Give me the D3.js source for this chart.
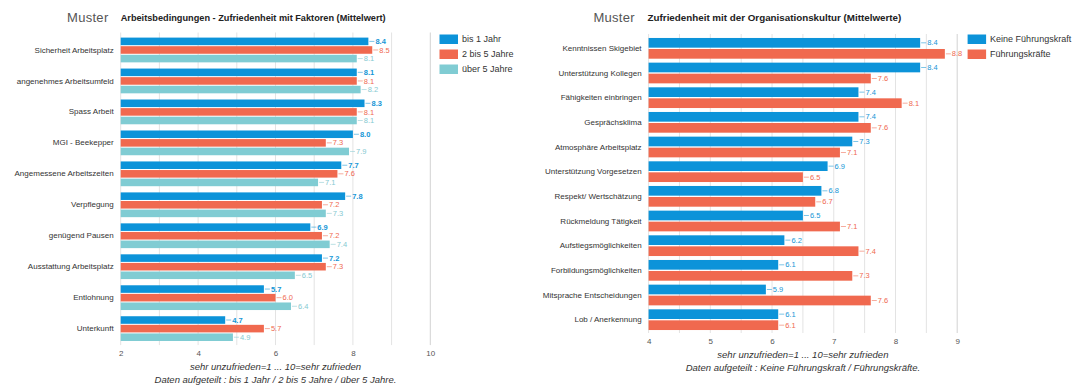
<!DOCTYPE html>
<html><head><meta charset="utf-8">
<script src="https://cdn.jsdelivr.net/npm/d3@7"></script>
<style>
html,body{margin:0;padding:0;background:#fff;}
svg{display:block;font-family:"Liberation Sans",Arial,Helvetica,sans-serif;}
</style></head>
<body><svg id="c" width="1080" height="391"></svg>
<script>
// ---------- DATA ----------
const leftTitle = "Arbeitsbedingungen - Zufriedenheit mit Faktoren (Mittelwert)";
const leftCategories = ["Sicherheit Arbeitsplatz","angenehmes Arbeitsumfeld","Spass Arbeit","MGI - Beekepper","Angemessene Arbeitszeiten","Verpflegung","genügend Pausen","Ausstattung Arbeitsplatz","Entlohnung","Unterkunft"];
const leftSeries = ["bis 1 Jahr","2 bis 5 Jahre","über 5 Jahre"];
const leftBis1Jahr   = [8.4, 8.1, 8.3, 8.0, 7.7, 7.8, 6.9, 7.2, 5.7, 4.7];
const left2bis5Jahre = [8.5, 8.1, 8.1, 7.3, 7.6, 7.2, 7.2, 7.3, 6.0, 5.7];
const leftUeber5Jahre= [8.1, 8.2, 8.1, 7.9, 7.1, 7.3, 7.4, 6.5, 6.4, 4.9];
const leftTicks = [2, 4, 6, 8, 10];
const leftNotes = ["sehr unzufrieden=1 ... 10=sehr zufrieden", "Daten aufgeteilt : bis 1 Jahr / 2 bis 5 Jahre / über 5 Jahre."];

const rightTitle = "Zufriedenheit mit der Organisationskultur (Mittelwerte)";
const rightCategories = ["Kenntnissen Skigebiet","Unterstützung Kollegen","Fähigkeiten einbringen","Gesprächsklima","Atmosphäre Arbeitsplatz","Unterstützung Vorgesetzen","Respekt/ Wertschätzung","Rückmeldung Tätigkeit","Aufstiegsmöglichkeiten","Forbildungsmöglichkeiten","Mitsprache Entscheidungen","Lob / Anerkennung"];
const rightSeries = ["Keine Führungskraft","Führungskräfte"];
const rightKeineFK = [8.4, 8.4, 7.4, 7.4, 7.3, 6.9, 6.8, 6.5, 6.2, 6.1, 5.9, 6.1];
const rightFK      = [8.8, 7.6, 8.1, 7.6, 7.1, 6.5, 6.7, 7.1, 7.4, 7.3, 7.6, 6.1];
const rightTicks = [4, 5, 6, 7, 8, 9];
const rightNotes = ["sehr unzufrieden=1 ... 10=sehr zufrieden", "Daten aufgeteilt : Keine Führungskraft / Führungskräfte."];

const badge = "Muster";

// ---------- STYLE ----------
const barColors  = ["#0c93d9", "#f0694f", "#80ccd3"];
const textColors = ["#1596d6", "#ef6a50", "#86c9d1"];

const svg = d3.select("#c");

function drawChart(cfg) {
  const {categories, series, values, ticks, gridStep, title, titleSize, notes,
         xRange, yRange, padInner, muster, titleX, legendX, boldFirst} = cfg;
  const g = svg.append("g");
  const x = d3.scaleLinear().domain([ticks[0], ticks[ticks.length-1]]).range(xRange);
  const y0 = d3.scaleBand().domain(categories).range(yRange).paddingInner(padInner).paddingOuter(padInner/2);
  const y1 = d3.scaleBand().domain(series).range([0, y0.bandwidth()]).paddingInner(0.12);

  // badge + title
  g.append("text").attr("x", muster).attr("y", 22).attr("font-size", 13).attr("fill", "#555")
    .attr("letter-spacing", 0.3).text(badge);
  g.append("text").attr("x", titleX).attr("y", 21).attr("font-size", titleSize).attr("font-weight", "bold")
    .attr("fill", "#222").text(title);

  // grid
  const grid = d3.range(ticks[0], ticks[ticks.length-1] + gridStep/2, gridStep);
  g.append("g").selectAll("line").data(grid).join("line")
    .attr("x1", d => x(d)).attr("x2", d => x(d))
    .attr("y1", yRange[0] - 2).attr("y2", yRange[1] + 1)
    .attr("stroke", (d,i) => i === grid.length-1 ? "#d2d2d2" : "#e3e3e3").attr("stroke-width", 1);

  // x axis tick labels
  const ax = g.append("g").attr("transform", `translate(0,${yRange[1]})`)
    .call(d3.axisBottom(x).tickValues(ticks).tickSize(0).tickPadding(6).tickFormat(d3.format("d")));
  ax.select(".domain").remove();
  ax.selectAll("text").attr("font-size", 8).attr("fill", "#555").attr("font-family", null);

  // category labels
  const ay = g.append("g").attr("transform", `translate(${xRange[0]},0)`)
    .call(d3.axisLeft(y0).tickSize(0).tickPadding(7));
  ay.select(".domain").remove();
  ay.selectAll("text").attr("font-size", 8).attr("fill", "#333").attr("font-family", null);

  // bars
  const rows = categories.map((c, i) => ({c, vals: series.map((s, j) => ({s, j, v: values[j][i]}))}));
  const grp = g.append("g").selectAll("g").data(rows).join("g")
    .attr("transform", d => `translate(0,${y0(d.c)})`);
  grp.selectAll("rect").data(d => d.vals).join("rect")
    .attr("x", x(ticks[0])).attr("y", d => y1(d.s))
    .attr("width", d => x(d.v) - x(ticks[0])).attr("height", y1.bandwidth())
    .attr("fill", d => barColors[d.j]);
  grp.selectAll("line").data(d => d.vals).join("line")
    .attr("x1", d => x(d.v) + 1).attr("x2", d => x(d.v) + 6)
    .attr("y1", d => y1(d.s) + y1.bandwidth()/2).attr("y2", d => y1(d.s) + y1.bandwidth()/2)
    .attr("stroke", d => textColors[d.j]).attr("stroke-opacity", 0.7).attr("stroke-width", 0.8);
  grp.selectAll("text").data(d => d.vals).join("text")
    .attr("x", d => x(d.v) + 7).attr("y", d => y1(d.s) + y1.bandwidth()/2).attr("dy", "0.35em")
    .attr("font-size", 7.5).attr("fill", d => textColors[d.j])
    .attr("font-weight", d => (boldFirst && d.j === 0) ? "bold" : "normal")
    .text(d => d3.format(".1f")(d.v));

  // legend
  const lg = g.append("g").selectAll("g").data(series).join("g")
    .attr("transform", (d, i) => `translate(${legendX},${34.5 + i*15})`);
  lg.append("rect").attr("width", 18.5).attr("height", 9.5).attr("fill", (d,i) => barColors[i]);
  lg.append("text").attr("x", 22.5).attr("y", 4.75).attr("dy", "0.35em").attr("font-size", 9)
    .attr("fill", "#333").text(d => d);

  // notes
  const cx = (xRange[0] + xRange[1]) / 2;
  g.append("g").selectAll("text").data(notes).join("text")
    .attr("x", cx).attr("y", (d, i) => yRange[1] + 26 + i*13).attr("text-anchor", "middle")
    .attr("font-size", 9.5).attr("font-style", "italic").attr("fill", "#333").text(d => d);
}

drawChart({
  categories: leftCategories, series: leftSeries,
  values: [leftBis1Jahr, left2bis5Jahre, leftUeber5Jahre],
  ticks: leftTicks, gridStep: 1, title: leftTitle, titleSize: 9.2, notes: leftNotes,
  xRange: [120.7, 430.3], yRange: [34.5, 344.1], padInner: 0.2,
  muster: 67, titleX: 120.7, legendX: 439.5, boldFirst: true
});

drawChart({
  categories: rightCategories, series: rightSeries,
  values: [rightKeineFK, rightFK],
  ticks: rightTicks, gridStep: 0.5, title: rightTitle, titleSize: 9.8, notes: rightNotes,
  xRange: [648.6, 957.2], yRange: [36, 332], padInner: 0.16,
  muster: 593.4, titleX: 647.6, legendX: 967.6, boldFirst: false
});
</script>
</body></html>
